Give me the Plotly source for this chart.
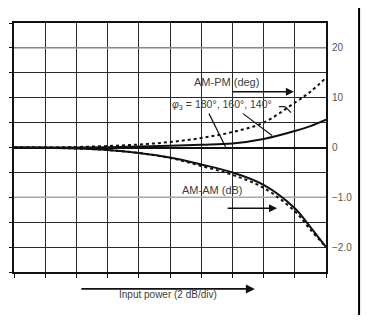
import plotly.graph_objects as go

# Input power in grid divisions (2 dB per division)
pin_div = [0, 1, 2, 3, 4, 5, 6, 7, 8, 9, 9.5, 10]

# AM-PM (deg) for two phase settings
am_pm_solid = [0, 0, 0, 0.05, 0.2, 0.35, 0.55, 0.8, 1.7, 3.3, 4.3, 5.6]
am_pm_dotted = [0, 0, 0.1, 0.3, 0.6, 1.1, 1.9, 3.1, 5.0, 9.0, 11.2, 14.0]

# AM-AM (dB) for two phase settings
am_am_solid = [0, -0.005, -0.02, -0.05, -0.11, -0.2, -0.34, -0.5, -0.75, -1.22, -1.6, -2.0]
am_am_dotted = [0, -0.005, -0.02, -0.05, -0.11, -0.21, -0.37, -0.55, -0.81, -1.28, -1.65, -2.0]

# Right-hand scale labels (deg above zero, dB below)
right_tickvals = [20, 10, 0, -10, -20]
right_ticktext = ["20", "10", "0", "\u22121.0", "\u22122.0"]

FONT = "Liberation Sans Narrow, Liberation Sans, Arial, sans-serif"
TXT = "#3c3c3c"
INK = "#111111"

fig = go.Figure()

fig.add_trace(go.Scatter(x=pin_div, y=am_am_dotted, mode="lines", yaxis="y",
                         line=dict(color=INK, width=2, dash="dot", shape="spline")))
fig.add_trace(go.Scatter(x=pin_div, y=am_am_solid, mode="lines", yaxis="y",
                         line=dict(color=INK, width=2, shape="spline")))
fig.add_trace(go.Scatter(x=pin_div, y=am_pm_dotted, mode="lines", yaxis="y2",
                         line=dict(color=INK, width=2, dash="dot", shape="spline")))
fig.add_trace(go.Scatter(x=pin_div, y=am_pm_solid, mode="lines", yaxis="y2",
                         line=dict(color=INK, width=2, shape="spline")))

shapes = []
# lighter reference grid lines
for yv in [2.0, -1.0]:
    shapes.append(dict(type="line", xref="x", yref="y", x0=0, x1=10, y0=yv, y1=yv,
                       line=dict(color="#a8a8a8", width=1.5), layer="between"))
# leader lines from the phase label to the curves
leaders = [
    [(6.25, 0.68), (6.79, 0.0)],
    [(7.34, 0.68), (8.27, 0.24)],
    [(8.49, 0.82), (8.69, 0.82)],
    [(8.69, 0.82), (8.88, 0.70)],
]
for (xa, ya), (xb, yb) in leaders:
    shapes.append(dict(type="line", xref="x", yref="y", x0=xa, y0=ya, x1=xb, y1=yb,
                       line=dict(color=INK, width=1.2)))
# page border line at right
shapes.append(dict(type="line", xref="paper", yref="paper", x0=1.106, x1=1.106,
                   y0=-0.173, y1=1.06, line=dict(color="#000000", width=2)))

annotations = [
    dict(x=6.8, y=1.32, xref="x", yref="y", text="AM-PM (deg)", showarrow=False,
         font=dict(family=FONT, size=11, color=TXT)),
    dict(x=8.97, y=1.12, xref="x", yref="y", ax=6.96, ay=1.12, axref="x", ayref="y",
         text="", showarrow=True, arrowhead=2, arrowsize=1, arrowwidth=1.6, arrowcolor=INK),
    dict(x=6.67, y=0.86, xref="x", yref="y",
         text="<i>\u03c6</i><sub>3</sub> = 180\u00b0, 160\u00b0, 140\u00b0", showarrow=False,
         font=dict(family=FONT, size=10.5, color=TXT)),
    dict(x=6.35, y=-0.86, xref="x", yref="y", text="AM-AM (dB)", showarrow=False,
         font=dict(family=FONT, size=11, color=TXT)),
    dict(x=8.43, y=-1.22, xref="x", yref="y", ax=6.8, ay=-1.22, axref="x", ayref="y",
         text="", showarrow=True, arrowhead=2, arrowsize=1, arrowwidth=1.6, arrowcolor=INK),
    dict(x=0.772, y=-0.068, xref="paper", yref="paper", ax=-175, ay=0,
         text="", showarrow=True, arrowhead=2, arrowsize=1, arrowwidth=1.8, arrowcolor=INK),
    dict(x=0.494, y=-0.12, xref="paper", yref="paper", text="Input power (2 dB/div)",
         showarrow=False, font=dict(family=FONT, size=10, color=TXT)),
]

fig.update_layout(
    width=368, height=323,
    margin=dict(l=14, r=42, t=23, b=51),
    paper_bgcolor="white", plot_bgcolor="white",
    showlegend=False,
    shapes=shapes, annotations=annotations,
    xaxis=dict(range=[0, 10], dtick=1, tick0=0, showticklabels=False,
               showgrid=True, gridcolor="#2a2a2a", gridwidth=1.3,
               zeroline=False, showline=True, linecolor=INK, linewidth=2, mirror=True,
               ticks="outside", ticklen=4, tickcolor=INK, tickwidth=1.3),
    yaxis=dict(range=[-2.5, 2.5], dtick=0.5, tick0=0, showticklabels=False,
               showgrid=True, gridcolor="#2a2a2a", gridwidth=1.3,
               zeroline=True, zerolinecolor=INK, zerolinewidth=2.2,
               showline=True, linecolor=INK, linewidth=2, mirror=True,
               ticks="outside", ticklen=3, tickcolor=INK, tickwidth=1.3),
    yaxis2=dict(range=[-25, 25], overlaying="y", side="right",
                tickvals=right_tickvals, ticktext=right_ticktext,
                showgrid=False, zeroline=False, showline=False, ticks="",
                ticklabelstandoff=5,
                tickfont=dict(family=FONT, size=10, color="#555555")),
)

fig.write_html("out.html")
